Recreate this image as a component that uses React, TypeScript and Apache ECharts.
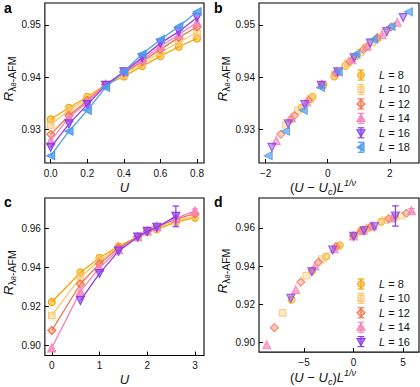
import React, { useEffect, useRef } from 'react';
import * as echarts from 'echarts';

// ---------- data ----------
const L_AB = [8, 10, 12, 14, 16, 18];
const L_CD = [8, 10, 12, 14, 16];

const U_A = [0, 0.1, 0.2, 0.3, 0.4, 0.5, 0.6, 0.7, 0.8];
const R_A_8 = [0.9319, 0.9341, 0.9362, 0.9385, 0.9401, 0.9421, 0.944, 0.9458, 0.9474];
const R_A_10 = [0.9308, 0.9336, 0.9358, 0.9385, 0.9405, 0.9426, 0.9447, 0.9467, 0.9485];
const R_A_12 = [0.929, 0.9326, 0.9355, 0.9385, 0.9408, 0.943, 0.9453, 0.9476, 0.9496];
const R_A_14 = [0.9278, 0.9322, 0.9352, 0.9386, 0.941, 0.9433, 0.9459, 0.9481, 0.9505];
const R_A_16 = [0.9265, 0.931, 0.9347, 0.9384, 0.941, 0.9437, 0.9465, 0.9487, 0.9514];
const R_A_18 = [0.9249, 0.9296, 0.9336, 0.938, 0.941, 0.9444, 0.9472, 0.9497, 0.9525];

const X_B_8 = [-1.18, -0.84, -0.49, -0.14, 0.21, 0.56, 0.91, 1.25, 1.6];
const X_B_10 = [-1.35, -0.96, -0.56, -0.16, 0.24, 0.64, 1.04, 1.43, 1.83];
const X_B_12 = [-1.51, -1.07, -0.62, -0.18, 0.27, 0.71, 1.15, 1.6, 2.04];
const X_B_14 = [-1.66, -1.17, -0.68, -0.2, 0.29, 0.78, 1.27, 1.75, 2.24];
const X_B_16 = [-1.8, -1.27, -0.74, -0.21, 0.32, 0.85, 1.37, 1.9, 2.43];
const X_B_18 = [-1.92, -1.36, -0.79, -0.23, 0.34, 0.91, 1.47, 2.04, 2.6];

const U_C = [0, 0.6, 1.0, 1.4, 1.8, 2.0, 2.2, 2.6, 3.0];
const R_C_8 = [0.9224, 0.9375, 0.945, 0.9509, 0.9557, 0.9582, 0.9596, 0.9632, 0.9655];
const R_C_10 = [0.9155, 0.935, 0.9437, 0.9504, 0.9557, 0.9585, 0.9602, 0.964, 0.9663];
const R_C_12 = [0.9078, 0.9316, 0.942, 0.9501, 0.9558, 0.9586, 0.9608, 0.9648, 0.9676];
const R_C_14 = [0.8989, 0.9278, 0.94, 0.9491, 0.9558, 0.9587, 0.9611, 0.9652, 0.969];
const R_C_16 = [null, 0.9231, 0.937, 0.9484, 0.9556, 0.9585, 0.9606, 0.9662, null];
const ERR_C_14 = [0, 0, 0, 0, 0, 0, 0, 0, 0.001];
const ERR_C_16 = [0, 0, 0, 0, 0, 0, 0, 0.0053, 0];

const X_D_8 = [-6.26, -4.18, -2.78, -1.39, 0, 0.7, 1.39, 2.78, 4.18];
const X_D_10 = [-7.16, -4.78, -3.18, -1.59, 0, 0.8, 1.59, 3.18, 4.78];
const X_D_12 = [-7.99, -5.33, -3.55, -1.78, 0, 0.89, 1.78, 3.55, 5.33];
const X_D_14 = [-8.77, -5.84, -3.9, -1.95, 0, 0.97, 1.95, 3.9, 5.84];
const X_D_16 = [null, -6.34, -4.22, -2.11, 0, 1.06, 2.11, 4.22, null];

const TICKS_A_X = [0, 0.2, 0.4, 0.6, 0.8];
const TICKS_AB_Y = [0.93, 0.94, 0.95];
const TICKS_B_X = [-2, 0, 2];
const TICKS_C_X = [0, 1, 2, 3];
const TICKS_CD_Y = [0.9, 0.92, 0.94, 0.96];
const TICKS_D_X = [-5, 0, 5];

// ---------- styles ----------
const COLORS = ['#F5A400', '#F9C66E', '#F56F47', '#F584BC', '#8A3DEE', '#4D9BF0'];
const FILL_ALPHA = [0.5, 0.45, 0.4, 0.8, 0.6, 0.8];
const SYMBOLS = ['circle', 'rect', 'diamond', 'triangle', 'triangle', 'triangle'];
const ROTS = [0, 0, 0, 0, 180, 90];
const SIZES = [7, 6.5, 8, 8, 8, 8];
const FONT = 'Liberation Sans, Arial, sans-serif';
const TXT = '#111';

function rgba(hex: string, a: number) {
  const n = parseInt(hex.slice(1), 16);
  return `rgba(${(n >> 16) & 255},${(n >> 8) & 255},${n & 255},${a})`;
}

const GRIDS = [
  { left: 43, top: 3, width: 161, height: 160 },
  { left: 259, top: 3, width: 160, height: 160 },
  { left: 43, top: 198, width: 161, height: 160 },
  { left: 259, top: 198, width: 160, height: 160 },
];

const minusFmt = (v: number) => (v < 0 ? '\u2212' + Math.abs(v) : String(v));

const Y_NAME = '{r|R}{s|λ}{ss|8}{s|-AFM}';
const Y_RICH = {
  r: { fontSize: 13.5, fontStyle: 'italic', fontFamily: FONT, color: TXT, lineHeight: 19 },
  s: { fontSize: 10.5, fontFamily: FONT, color: TXT, lineHeight: 13, verticalAlign: 'bottom' },
  ss: { fontSize: 7.5, fontFamily: FONT, color: TXT, lineHeight: 8, verticalAlign: 'bottom' },
};
const U_NAME = '{i|U}';
const SCALED_NAME = '{n|(}{i|U}{n| − }{i|U}{sub|c}{n|)}{i|L}{sup|1/ν}';
const X_RICH = {
  i: { fontSize: 13, fontStyle: 'italic', fontFamily: FONT, color: TXT, lineHeight: 18 },
  n: { fontSize: 13, fontFamily: FONT, color: TXT, lineHeight: 18 },
  sub: { fontSize: 9, fontStyle: 'italic', fontFamily: FONT, color: TXT, lineHeight: 10, verticalAlign: 'bottom' },
  sup: { fontSize: 9, fontStyle: 'italic', fontFamily: FONT, color: TXT, lineHeight: 10, verticalAlign: 'top' },
};

function xAxis(gi: number, min: number, max: number, ticks: number[], fmt: (v: number) => string, name: string, gap: number, shift: number) {
  return {
    type: 'value', gridIndex: gi, min, max,
    axisLine: { show: false, onZero: false },
    axisTick: { show: true, inside: true, length: 4, customValues: ticks, lineStyle: { color: '#000', width: 1 } },
    axisLabel: { customValues: ticks, formatter: fmt, margin: 5, fontSize: 10, fontFamily: FONT, color: TXT },
    splitLine: { show: false },
    name, nameLocation: 'middle', nameGap: gap,
    nameTextStyle: { rich: X_RICH, padding: [0, shift, 0, 0] },
  };
}
function yAxis(gi: number, min: number, max: number, ticks: number[], gap: number) {
  return {
    type: 'value', gridIndex: gi, min, max,
    axisLine: { show: false, onZero: false },
    axisTick: { show: true, inside: true, length: 4, customValues: ticks, lineStyle: { color: '#000', width: 1 } },
    axisLabel: { customValues: ticks, formatter: (v: number) => v.toFixed(2), margin: 4, fontSize: 10, fontFamily: FONT, color: TXT },
    splitLine: { show: false },
    name: Y_NAME, nameLocation: 'middle', nameGap: gap, nameRotate: 90,
    nameTextStyle: { rich: Y_RICH, padding: [0, 0, 0, 8] },
  };
}

function pts(xs: (number | null)[], ys: (number | null)[]) {
  const out: number[][] = [];
  xs.forEach((x, i) => {
    const y = ys[i];
    if (x !== null && y !== null) out.push([x as number, y as number]);
  });
  return out;
}

function markerSeries(type: 'line' | 'scatter', gi: number, idx: number, data: number[][]) {
  const c = COLORS[idx];
  return {
    type, xAxisIndex: gi, yAxisIndex: gi, data,
    symbol: SYMBOLS[idx], symbolSize: SIZES[idx], symbolRotate: ROTS[idx],
    showSymbol: true, silent: true, z: 2 + idx,
    lineStyle: { color: c, width: 1.3 },
    itemStyle: { color: rgba(c, FILL_ALPHA[idx]), borderColor: c, borderWidth: 1.1 },
  };
}

function errSeries(gi: number, idx: number, xs: (number | null)[], ys: (number | null)[], errs: number[]) {
  const data: number[][] = [];
  xs.forEach((x, i) => {
    const y = ys[i];
    if (x !== null && y !== null && errs[i] > 0) data.push([x as number, y as number, errs[i]]);
  });
  const c = COLORS[idx];
  return {
    type: 'custom', xAxisIndex: gi, yAxisIndex: gi, data, silent: true, z: 10,
    renderItem: (_p: any, api: any) => {
      const x = api.value(0), y = api.value(1), e = api.value(2);
      const t = api.coord([x, y + e]);
      const b = api.coord([x, y - e]);
      const w = 3.3;
      const st = { stroke: c, lineWidth: 1.2 };
      return {
        type: 'group',
        children: [
          { type: 'line', shape: { x1: t[0], y1: t[1], x2: b[0], y2: b[1] }, style: st },
          { type: 'line', shape: { x1: t[0] - w, y1: t[1], x2: t[0] + w, y2: t[1] }, style: st },
          { type: 'line', shape: { x1: b[0] - w, y1: b[1], x2: b[0] + w, y2: b[1] }, style: st },
        ],
      };
    },
  };
}

function legendGraphics(Ls: number[], x0: number, y0: number, step: number) {
  const els: any[] = [];
  Ls.forEach((L, i) => {
    const cy = y0 + i * step;
    const cx = x0;
    const c = COLORS[i];
    const st = { stroke: c, lineWidth: 1.2 };
    els.push({ type: 'line', shape: { x1: cx, y1: cy - 5, x2: cx, y2: cy + 5 }, style: st });
    els.push({ type: 'line', shape: { x1: cx - 3.3, y1: cy - 5, x2: cx + 3.3, y2: cy - 5 }, style: st });
    els.push({ type: 'line', shape: { x1: cx - 3.3, y1: cy + 5, x2: cx + 3.3, y2: cy + 5 }, style: st });
    const ms = { fill: rgba(c, FILL_ALPHA[i]), stroke: c, lineWidth: 1.1 };
    let m: any;
    if (i === 0) m = { type: 'circle', shape: { cx, cy, r: 3.3 }, style: ms };
    else if (i === 1) m = { type: 'rect', shape: { x: cx - 3, y: cy - 3, width: 6, height: 6 }, style: ms };
    else if (i === 2) m = { type: 'polygon', shape: { points: [[cx, cy - 4], [cx + 4, cy], [cx, cy + 4], [cx - 4, cy]] }, style: ms };
    else if (i === 3) m = { type: 'polygon', shape: { points: [[cx, cy - 4], [cx + 4, cy + 3], [cx - 4, cy + 3]] }, style: ms };
    else if (i === 4) m = { type: 'polygon', shape: { points: [[cx, cy + 4], [cx + 4, cy - 3], [cx - 4, cy - 3]] }, style: ms };
    else m = { type: 'polygon', shape: { points: [[cx - 4, cy], [cx + 3, cy - 4], [cx + 3, cy + 4]] }, style: ms };
    els.push(m);
    els.push({
      type: 'text', x: x0 + 18, y: cy,
      style: {
        text: `{i|L} = ${L}`, fontSize: 11, fontFamily: FONT, fill: TXT, verticalAlign: 'middle', align: 'left',
        rich: { i: { fontStyle: 'italic', fontSize: 11, fontFamily: FONT, fill: TXT } },
      },
    });
  });
  return els;
}

function letter(t: string, x: number, y: number) {
  return { type: 'text', x, y, style: { text: t, fontSize: 14, fontWeight: 'bold', fontFamily: FONT, fill: '#000', verticalAlign: 'bottom' } };
}

export default function App() {
  const ref = useRef<HTMLDivElement>(null);
  useEffect(() => {
    if (!ref.current) return;
    const chart = echarts.init(ref.current, undefined, { renderer: 'svg' });
    const RA = [R_A_8, R_A_10, R_A_12, R_A_14, R_A_16, R_A_18];
    const XB = [X_B_8, X_B_10, X_B_12, X_B_14, X_B_16, X_B_18];
    const RC = [R_C_8, R_C_10, R_C_12, R_C_14, R_C_16];
    const XD = [X_D_8, X_D_10, X_D_12, X_D_14, X_D_16];
    const series: any[] = [];
    RA.forEach((r, i) => series.push(markerSeries('line', 0, i, pts(U_A, r))));
    XB.forEach((x, i) => series.push(markerSeries('scatter', 1, i, pts(x, RA[i]))));
    RC.forEach((r, i) => series.push(markerSeries('line', 2, i, pts(U_C, r))));
    XD.forEach((x, i) => series.push(markerSeries('scatter', 3, i, pts(x, RC[i]))));
    series.push(errSeries(2, 3, U_C, R_C_14, ERR_C_14));
    series.push(errSeries(2, 4, U_C, R_C_16, ERR_C_16));
    series.push(errSeries(3, 3, X_D_14, R_C_14, ERR_C_14));
    series.push(errSeries(3, 4, X_D_16, R_C_16, ERR_C_16));

    chart.setOption({
      animation: false,
      backgroundColor: '#fff',
      grid: GRIDS.map((g) => ({ ...g, show: true, borderColor: '#000', borderWidth: 1.1, backgroundColor: 'transparent' })),
      xAxis: [
        xAxis(0, -0.032, 0.838, TICKS_A_X, (v) => v.toFixed(1), U_NAME, 15, 0),
        xAxis(1, -2.215, 2.94, TICKS_B_X, minusFmt, SCALED_NAME, 14, 32),
        xAxis(2, -0.145, 3.19, TICKS_C_X, (v) => String(v), U_NAME, 15, 0),
        xAxis(3, -9.55, 6.6, TICKS_D_X, minusFmt, SCALED_NAME, 12, 32),
      ],
      yAxis: [
        yAxis(0, 0.9235, 0.9542, TICKS_AB_Y, 19),
        yAxis(1, 0.9235, 0.9542, TICKS_AB_Y, 19),
        yAxis(2, 0.895, 0.9756, TICKS_CD_Y, 19),
        yAxis(3, 0.895, 0.9756, TICKS_CD_Y, 19),
      ],
      series,
      graphic: [
        letter('a', 4, 15),
        letter('b', 214, 15),
        letter('c', 4, 209),
        letter('d', 214, 209),
        ...legendGraphics(L_AB, 361, 75, 14.45),
        ...legendGraphics(L_CD, 361, 284, 14.4),
      ],
    });
    return () => chart.dispose();
  }, []);
  return <div ref={ref} style={{ position: 'absolute', left: 0, top: 0, width: 420, height: 387 }} />;
}
